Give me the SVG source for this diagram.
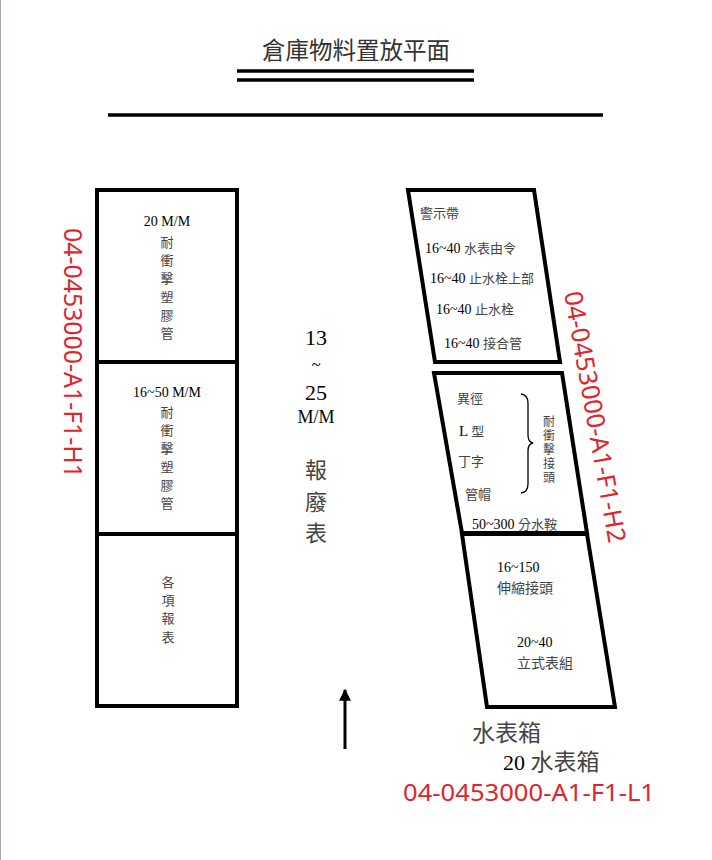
<svg xmlns="http://www.w3.org/2000/svg" width="712" height="860" viewBox="0 0 712 860">
<defs>
<style>
.bx{fill:none;stroke:#000;stroke-width:4;stroke-linejoin:miter}
.ln{stroke:#000;stroke-width:3.5}
.cj{font-family:"Noto Sans CJK TC","Noto Sans CJK SC",sans-serif;fill:#444}
.sr{font-family:"Liberation Serif",serif;fill:#000}
.rd{font-family:"Noto Sans","Liberation Sans",sans-serif;fill:#e0242c}
.s12{font-size:12px}
.s13{font-size:13px}
.s14{font-size:14px}
.mid{text-anchor:middle}
</style>
<marker id="ah" viewBox="0 0 10 10" refX="9" refY="5" markerWidth="4" markerHeight="4" orient="auto">
<path d="M0,0 L10,5 L0,10 z" fill="#000"/>
</marker>
</defs>
<rect width="712" height="860" fill="#fff"/>
<line x1="0.5" y1="0" x2="0.5" y2="860" stroke="#a0a8a8" stroke-width="1"/>
<g id="title">
<text x="356" y="59" class="cj mid" style="font-size:23.5px;fill:#333">倉庫物料置放平面</text>
<line x1="237" y1="71" x2="474" y2="71" class="ln"/>
<line x1="237" y1="80" x2="474" y2="80" class="ln"/>
<line x1="108" y1="115" x2="603" y2="115" class="ln"/>
</g>
<g id="left-column">
<rect x="97" y="190" width="140" height="516" class="bx"/>
<line x1="97" y1="362" x2="237" y2="362" class="bx"/>
<line x1="97" y1="534" x2="237" y2="534" class="bx"/>
</g>
<g id="left-1">
<text x="167" y="226" class="sr s14 mid">20 M/M</text>
<text class="cj s13 mid"><tspan x="167" y="247">耐</tspan><tspan x="167" y="265">衝</tspan><tspan x="167" y="283">擊</tspan><tspan x="167" y="302">塑</tspan><tspan x="167" y="320">膠</tspan><tspan x="167" y="338">管</tspan></text>
</g>
<g id="left-2">
<text x="167" y="397" class="sr s14 mid">16~50 M/M</text>
<text class="cj s13 mid"><tspan x="167" y="417">耐</tspan><tspan x="167" y="435">衝</tspan><tspan x="167" y="453">擊</tspan><tspan x="167" y="472">塑</tspan><tspan x="167" y="490">膠</tspan><tspan x="167" y="508">管</tspan></text>
</g>
<g id="left-3">
<text class="cj s13 mid"><tspan x="168" y="587">各</tspan><tspan x="168" y="605">項</tspan><tspan x="168" y="623">報</tspan><tspan x="168" y="642">表</tspan></text>
</g>
<g id="middle">
<text x="316" y="345" class="sr mid" style="font-size:22px">13</text>
<text x="316" y="370" class="sr mid" style="font-size:17px">~</text>
<text x="316" y="400" class="sr mid" style="font-size:22px">25</text>
<text x="316" y="423" class="sr mid" style="font-size:18px">M/M</text>
<text class="cj mid" style="font-size:22px"><tspan x="316" y="478">報</tspan><tspan x="316" y="510">廢</tspan><tspan x="316" y="541">表</tspan></text>
</g>
<g id="right-top">
<polygon points="408,190 534,190 560,362 435,362" class="bx"/>
<text x="420" y="218" class="cj s13">警示帶</text>
<text x="425" y="253" class="s13"><tspan class="sr s14">16~40 </tspan><tspan class="cj">水表由令</tspan></text>
<text x="430" y="283" class="s13"><tspan class="sr s14">16~40 </tspan><tspan class="cj">止水栓上部</tspan></text>
<text x="436" y="314" class="s13"><tspan class="sr s14">16~40 </tspan><tspan class="cj">止水栓</tspan></text>
<text x="444" y="348" class="s13"><tspan class="sr s14">16~40 </tspan><tspan class="cj">接合管</tspan></text>
</g>
<g id="right-middle">
<polygon points="434,373 562,373 587,533 462,533" class="bx"/>
<text x="457" y="403" class="cj s13">異徑</text>
<text x="459" y="436" class="s13"><tspan class="sr" style="font-size:15px">L </tspan><tspan class="cj">型</tspan></text>
<text x="458" y="466" class="cj s13">丁字</text>
<text x="465" y="499" class="cj s13">管帽</text>
<path d="M521,394 Q528,395 528,403 L528,435 Q528,442 533,443 Q528,444 528,451 L528,484 Q528,492 521,493" fill="none" stroke="#000" stroke-width="1.3"/>
<text x="549" y="450" class="cj s12 mid" style="writing-mode:vertical-rl;letter-spacing:2px">耐衝擊接頭</text>
<text x="472" y="529" class="s13"><tspan class="sr s14">50~300 </tspan><tspan class="cj">分水鞍</tspan></text>
</g>
<g id="right-bottom">
<polygon points="462,534 587,534 615,707 487,707" class="bx"/>
<text x="497" y="572" class="sr s14">16~150</text>
<text x="497" y="593" class="cj s14">伸縮接頭</text>
<text x="517" y="647" class="sr s14">20~40</text>
<text x="517" y="668" class="cj s14">立式表組</text>
</g>
<g id="connectors">
<line x1="345" y1="749" x2="345" y2="690" stroke="#000" stroke-width="3" marker-end="url(#ah)"/>
</g>
<g id="bottom-labels">
<text x="472" y="741" class="cj" style="font-size:23px">水表箱</text>
<text x="503" y="770"><tspan class="sr" style="font-size:22px">20 </tspan><tspan class="cj" style="font-size:23px">水表箱</tspan></text>
<text x="403" y="801" class="rd" style="font-size:24px" textLength="252" lengthAdjust="spacingAndGlyphs">04-0453000-A1-F1-L1</text>
</g>
<g id="red-labels">
<text transform="translate(64,228) rotate(90)" class="rd" style="font-size:25px" textLength="250" lengthAdjust="spacingAndGlyphs">04-0453000-A1-F1-H1</text>
<text transform="translate(564,293) rotate(79.9)" class="rd" style="font-size:25px" textLength="255" lengthAdjust="spacingAndGlyphs">04-0453000-A1-F1-H2</text>
</g>
</svg>
